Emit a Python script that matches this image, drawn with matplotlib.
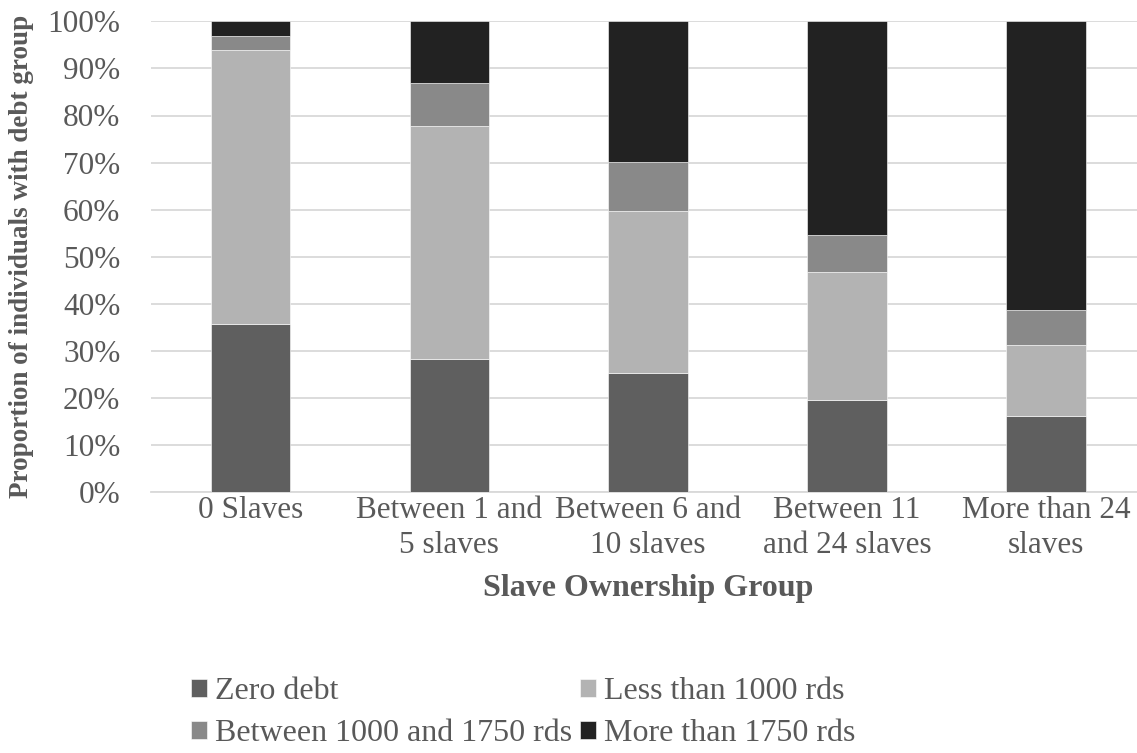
import matplotlib
matplotlib.use("Agg")
import matplotlib.pyplot as plt
import numpy as np

categories = ["0 Slaves", "Between 1 and\n5 slaves", "Between 6 and\n10 slaves",
              "Between 11\nand 24 slaves", "More than 24\nslaves"]
series_names = ["Zero debt", "Less than 1000 rds", "Between 1000 and 1750 rds", "More than 1750 rds"]
zero_debt = [35.8, 28.3, 25.3, 19.5, 16.3]
less_1000 = [58.2, 49.5, 34.4, 27.3, 15.0]
between_1000_1750 = [2.9, 9.1, 10.4, 7.9, 7.4]
more_1750 = [3.1, 13.1, 29.9, 45.3, 61.3]
yticks = [0, 10, 20, 30, 40, 50, 60, 70, 80, 90, 100]

colors = ["#5f5f5f", "#b3b3b3", "#898989", "#222222"]
text_color = "#595959"

plt.rcParams['font.family'] = ['Liberation Serif', 'DejaVu Serif']

fig = plt.figure(figsize=(11.37, 7.53), dpi=100)
W, H = 1137, 753
ax = fig.add_axes([151 / W, 1 - 492.3 / H, (1145.5 - 151) / W, (492.3 - 21.3) / H])

x = np.arange(len(categories))
bottom = np.zeros(len(categories))
handles = []
for vals, col, name in zip([zero_debt, less_1000, between_1000_1750, more_1750], colors, series_names):
    b = ax.bar(x, vals, bottom=bottom, width=0.4, color=col, edgecolor="white",
               linewidth=0.4, label=name, zorder=3)
    handles.append(b)
    bottom += np.array(vals)

ax.set_xlim(-0.5, 4.5)
ax.set_ylim(0, 100)
ax.set_yticks(yticks)
ax.set_yticklabels([f"{t}%" for t in yticks])
ax.yaxis.grid(True, color="#d9d9d9", linewidth=1.3, zorder=0)
ax.set_axisbelow(True)
for s in ["top", "right", "left"]:
    ax.spines[s].set_visible(False)
ax.spines["bottom"].set_color("#d9d9d9")
ax.spines["bottom"].set_linewidth(1.3)
ax.tick_params(axis="both", length=0, labelsize=22.5, colors=text_color)
ax.tick_params(axis="x", pad=3)
ax.tick_params(axis="y", pad=22)
ax.set_xticks(x)
ax.set_xticklabels(categories, linespacing=1.25)

ax.set_xlabel("Slave Ownership Group", fontsize=23, fontweight="bold", color=text_color, labelpad=10)
ax.set_ylabel("Proportion of individuals with debt group", fontsize=19.5, fontweight="bold",
              color=text_color, labelpad=10)

order = [0, 2, 1, 3]
leg = fig.legend(handles=[handles[i] for i in order], labels=[series_names[i] for i in order],
                 ncol=2, loc="upper left",
                 bbox_to_anchor=(169 / W, 1 - 655 / H), frameon=False, fontsize=23,
                 handlelength=0.5, handleheight=0.5, handletextpad=0.25,
                 columnspacing=0.24, labelspacing=0.4, borderpad=0.2)
for t in leg.get_texts():
    t.set_color(text_color)

fig.savefig("out.png", dpi=100)
